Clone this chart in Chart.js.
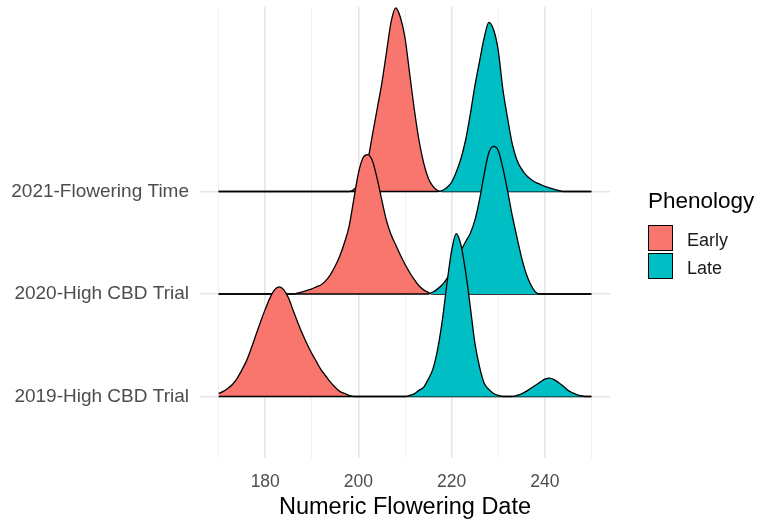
<!doctype html>
<html>
    <head>
        <title>Flowering Date Ridgelines</title>
        <script src="https://cdn.jsdelivr.net/npm/chart.js"></script>
        <style>
            html, body { margin: 0; padding: 0; background: #fff; overflow: hidden; }
            canvas { display: block; }
        </style>
    </head>
    <body>
        <canvas id="ridgeChart" width="774" height="522"></canvas>
        <script>
            // trials on the y axis (bottom to top)
            const trials = ["2019-High CBD Trial", "2020-High CBD Trial", "2021-Flowering Time"];
            const groups = ["Early", "Late"];
            const groupColors = ["#F8766D", "#00BFC4"];

            const majorTicks = [180, 200, 220, 240];
            const gridBreaks = [170, 180, 190, 200, 210, 220, 230, 240, 250];

            // density heights [date, height] per trial
            const early2019 = [[170,0.03],[171,0.05],[172,0.08],[173,0.12],[174,0.18],[175,0.26],[176,0.35],[177,0.47],[178,0.6],[179,0.73],[180,0.85],[181,0.96],[182,1.04],[183,1.07],[184,1.04],[185,0.96],[186,0.84],[187,0.72],[188,0.61],[189,0.51],[190,0.42],[191,0.34],[192,0.26],[193,0.2],[194,0.14],[195,0.09],[196,0.05],[197,0.03],[198,0.01],[199,0],[250,0]];
            const late2019 = [[170,0],[210,0],[211,0.01],[212,0.025],[213,0.06],[214,0.09],[215,0.17],[216,0.27],[217,0.46],[218,0.74],[219,1.1],[220,1.42],[221,1.59],[222,1.48],[223,1.22],[224,0.88],[225,0.52],[226,0.29],[227,0.13],[228,0.07],[229,0.03],[230,0.01],[231,0],[233,0],[234,0.01],[235,0.025],[236,0.05],[237,0.08],[238,0.11],[239,0.14],[240,0.17],[241,0.18],[242,0.165],[243,0.135],[244,0.1],[245,0.06],[246,0.035],[247,0.015],[248,0.005],[249,0],[250,0]];
            const early2020 = [[170,0],[186,0],[187,0.01],[188,0.02],[189,0.035],[190,0.05],[191,0.07],[192,0.09],[193,0.13],[194,0.19],[195,0.27],[196,0.37],[197,0.5],[198,0.66],[199,0.92],[200,1.18],[201,1.33],[202,1.36],[203,1.3],[204,1.13],[205,0.92],[206,0.72],[207,0.58],[208,0.48],[209,0.38],[210,0.29],[211,0.21],[212,0.14],[213,0.08],[214,0.04],[215,0.015],[216,0],[250,0]];
            const late2020 = [[170,0],[215,0],[216,0.02],[217,0.05],[218,0.09],[219,0.15],[220,0.23],[221,0.32],[222,0.42],[223,0.51],[224,0.59],[225,0.72],[226,0.92],[227,1.17],[228,1.38],[229,1.44],[230,1.4],[231,1.23],[232,1.01],[233,0.77],[234,0.56],[235,0.36],[236,0.2],[237,0.09],[238,0.02],[239,0],[250,0]];
            const early2021 = [[170,0],[198,0],[199,0.02],[200,0.07],[201,0.15],[202,0.3],[203,0.55],[204,0.8],[205,1.05],[206,1.35],[207,1.65],[208,1.79],[209,1.7],[210,1.5],[211,1.15],[212,0.8],[213,0.5],[214,0.28],[215,0.13],[216,0.05],[217,0.01],[218,0],[250,0]];
            const late2021 = [[170,0],[217,0],[218,0.01],[219,0.04],[220,0.09],[221,0.19],[222,0.32],[223,0.5],[224,0.75],[225,1.03],[226,1.27],[227,1.5],[228,1.65],[229,1.58],[230,1.38],[231,1.0],[232,0.72],[233,0.47],[234,0.31],[235,0.22],[236,0.16],[237,0.12],[238,0.09],[239,0.07],[240,0.05],[241,0.035],[242,0.02],[243,0.01],[244,0],[250,0]];

            // lower rows sit on top, so they go first (dataset 0 is drawn last)
            const ridges = [
                { row: 1, group: 1, pts: late2019 },
                { row: 1, group: 0, pts: early2019 },
                { row: 2, group: 1, pts: late2020 },
                { row: 2, group: 0, pts: early2020 },
                { row: 3, group: 1, pts: late2021 },
                { row: 3, group: 0, pts: early2021 },
            ];

            const font = '"Liberation Sans", Arial, sans-serif';

            const legendPlugin = {
                id: "phenologyLegend",
                afterDraw(chart) {
                    const c = chart.ctx;
                    c.save();
                    c.textBaseline = "alphabetic";
                    c.textAlign = "left";
                    c.fillStyle = "#000";
                    c.font = "22.5px " + font;
                    c.fillText("Phenology", 648, 208);
                    groups.forEach((g, i) => {
                        const y = 225 + i * 28;
                        c.fillStyle = groupColors[i];
                        c.fillRect(648.5, y + 0.5, 24, 25);
                        c.strokeStyle = "#000";
                        c.lineWidth = 1;
                        c.strokeRect(648.5, y + 0.5, 24, 25);
                        c.fillStyle = "#1a1a1a";
                        c.font = "18px " + font;
                        c.fillText(g, 687, y + 21);
                    });
                    c.restore();
                },
            };

            const ctx = document.getElementById("ridgeChart").getContext("2d");
            const chart = new Chart(ctx, {
                type: "line",
                data: {
                    datasets: ridges.map((r, i) => ({
                        label: trials[r.row - 1] + " " + groups[r.group],
                        data: r.pts.map(([x, h]) => ({ x: x, y: r.row + h })),
                        order: i,
                        fill: { value: r.row },
                        backgroundColor: groupColors[r.group],
                        borderColor: "#000",
                        borderWidth: 1.3,
                        pointRadius: 0,
                        cubicInterpolationMode: "monotone",
                    })),
                },
                plugins: [legendPlugin],
                options: {
                    responsive: false,
                    animation: false,
                    layout: { padding: { top: 7, right: 164, left: 0, bottom: 0 } },
                    plugins: {
                        legend: { display: false },
                        tooltip: { enabled: false },
                    },
                    scales: {
                        x: {
                            type: "linear",
                            min: 166,
                            max: 254,
                            afterBuildTicks: (axis) => {
                                axis.ticks = gridBreaks.map((v) => ({ value: v }));
                            },
                            afterFit: (axis) => {
                                axis.height = 64;
                                axis.paddingLeft = 0;
                                axis.paddingRight = 0;
                            },
                            ticks: {
                                autoSkip: false,
                                maxRotation: 0,
                                padding: 14,
                                color: "#4d4d4d",
                                font: { family: font, size: 17.5 },
                                callback: (v) => (majorTicks.includes(v) ? String(v) : ""),
                            },
                            grid: {
                                drawTicks: false,
                                color: (c) => (c.tick && majorTicks.includes(c.tick.value) ? "#e6e6e6" : "#efefef"),
                                lineWidth: (c) => (c.tick && majorTicks.includes(c.tick.value) ? 1.6 : 1),
                            },
                            border: { display: false },
                            title: {
                                display: true,
                                text: "Numeric Flowering Date",
                                color: "#000",
                                font: { family: font, size: 23.5 },
                                padding: { top: 0, bottom: 0 },
                            },
                        },
                        y: {
                            type: "linear",
                            min: 0.4,
                            max: 4.8,
                            afterBuildTicks: (axis) => {
                                axis.ticks = [1, 2, 3].map((v) => ({ value: v }));
                            },
                            afterFit: (axis) => {
                                axis.width = 200;
                                axis.paddingTop = 0;
                                axis.paddingBottom = 0;
                            },
                            ticks: {
                                padding: 11,
                                color: "#4d4d4d",
                                font: { family: font, size: 19 },
                                callback: (v) => trials[v - 1],
                            },
                            grid: {
                                drawTicks: false,
                                color: "#e6e6e6",
                                lineWidth: 1.6,
                            },
                            border: { display: false },
                        },
                    },
                },
            });
        </script>
    </body>
</html>
